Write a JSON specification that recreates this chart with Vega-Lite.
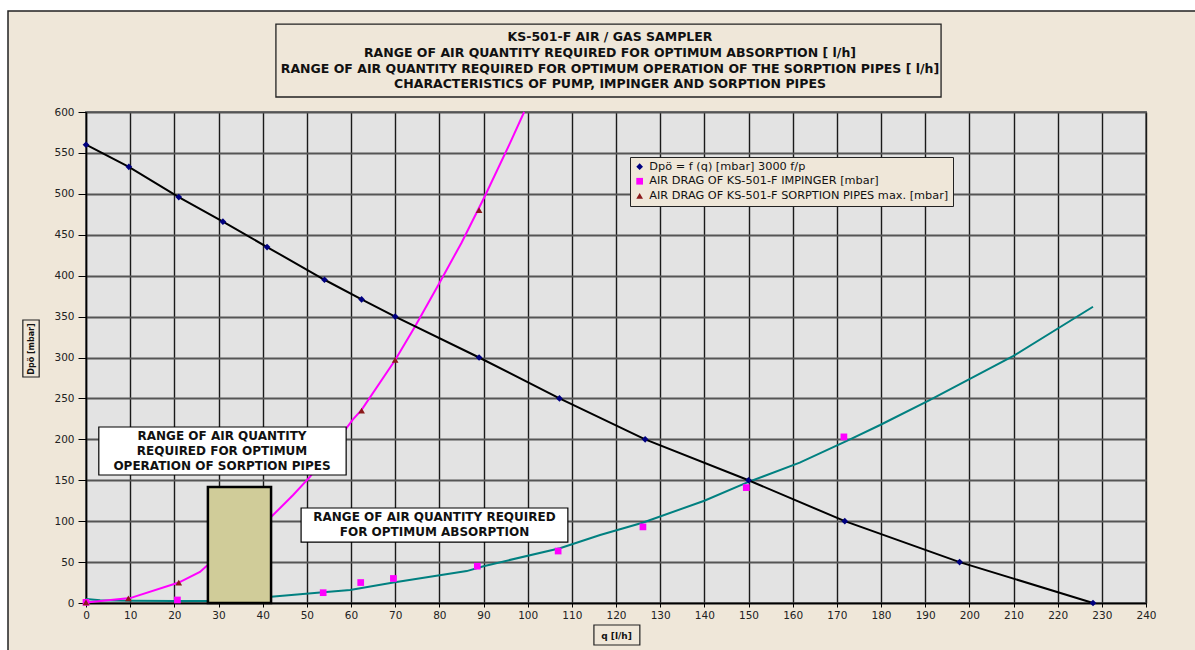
{
  "$schema": "https://vega.github.io/schema/vega-lite/v6.json",
  "width": 1060,
  "height": 491,
  "autosize": "none",
  "padding": {"left": 86, "top": 112, "right": 49, "bottom": 47},
  "background": "#EFE7D9",
  "config": {
    "view": {"fill": "#E3E3E3", "stroke": "#777777", "strokeWidth": 2},
    "font": "DejaVu Sans",
    "axis": {"labelFont": "DejaVu Sans", "titleFont": "DejaVu Sans"}
  },
  "title": {
    "text": [
      "KS-501-F AIR / GAS SAMPLER",
      "RANGE OF AIR QUANTITY REQUIRED FOR OPTIMUM ABSORPTION [ l/h]",
      "RANGE OF AIR QUANTITY REQUIRED FOR OPTIMUM OPERATION OF THE SORPTION PIPES [ l/h]",
      "CHARACTERISTICS OF PUMP, IMPINGER AND SORPTION PIPES"
    ],
    "anchor": "middle",
    "frame": "group",
    "font": "DejaVu Sans",
    "fontSize": 12.5,
    "fontWeight": "bold",
    "color": "#111111",
    "lineHeight": 15.7,
    "offset": -101.8,
    "dx": -6
  },
  "datasets": {
    "one": [{}],
    "pump": [
      {"q": 0, "dp": 560}, {"q": 9.7, "dp": 533}, {"q": 21, "dp": 496},
      {"q": 31, "dp": 466}, {"q": 41, "dp": 435}, {"q": 54, "dp": 395},
      {"q": 62.4, "dp": 371}, {"q": 70, "dp": 350}, {"q": 89, "dp": 300},
      {"q": 107.2, "dp": 250}, {"q": 126.6, "dp": 200}, {"q": 150, "dp": 150},
      {"q": 171.8, "dp": 100}, {"q": 197.8, "dp": 50}, {"q": 228, "dp": 0}
    ],
    "impingerCurve": [
      {"q": 0, "dp": 5}, {"q": 3.2, "dp": 3.3}, {"q": 10, "dp": 2.8},
      {"q": 20, "dp": 2.5}, {"q": 27.5, "dp": 2.4}, {"q": 41.9, "dp": 7.7},
      {"q": 53.7, "dp": 13}, {"q": 59.8, "dp": 16}, {"q": 69.6, "dp": 25},
      {"q": 86.2, "dp": 39}, {"q": 90, "dp": 45}, {"q": 107.3, "dp": 67},
      {"q": 116.4, "dp": 83}, {"q": 126, "dp": 98}, {"q": 140, "dp": 125},
      {"q": 150, "dp": 148}, {"q": 161.6, "dp": 171.5}, {"q": 173, "dp": 200},
      {"q": 179.8, "dp": 217.5}, {"q": 191, "dp": 248}, {"q": 210, "dp": 302},
      {"q": 228, "dp": 362}
    ],
    "pipesCurve": [
      {"q": 0, "dp": 0.5}, {"q": 10, "dp": 6}, {"q": 21, "dp": 25},
      {"q": 25.8, "dp": 38}, {"q": 27.5, "dp": 46}, {"q": 41.9, "dp": 105},
      {"q": 46.9, "dp": 132}, {"q": 50.7, "dp": 154}, {"q": 60.4, "dp": 224},
      {"q": 62.4, "dp": 236}, {"q": 70, "dp": 297}, {"q": 74.5, "dp": 338},
      {"q": 79.8, "dp": 389}, {"q": 85, "dp": 440}, {"q": 90.3, "dp": 497},
      {"q": 96, "dp": 562}, {"q": 99.2, "dp": 600}
    ],
    "points": [
      {"series": "Dpö = f (q)  [mbar] 3000 f/p", "q": 0, "dp": 560},
      {"series": "Dpö = f (q)  [mbar] 3000 f/p", "q": 9.7, "dp": 533},
      {"series": "Dpö = f (q)  [mbar] 3000 f/p", "q": 21, "dp": 496},
      {"series": "Dpö = f (q)  [mbar] 3000 f/p", "q": 31, "dp": 466},
      {"series": "Dpö = f (q)  [mbar] 3000 f/p", "q": 41, "dp": 435},
      {"series": "Dpö = f (q)  [mbar] 3000 f/p", "q": 54, "dp": 395},
      {"series": "Dpö = f (q)  [mbar] 3000 f/p", "q": 62.4, "dp": 371},
      {"series": "Dpö = f (q)  [mbar] 3000 f/p", "q": 70, "dp": 350},
      {"series": "Dpö = f (q)  [mbar] 3000 f/p", "q": 89, "dp": 300},
      {"series": "Dpö = f (q)  [mbar] 3000 f/p", "q": 107.2, "dp": 250},
      {"series": "Dpö = f (q)  [mbar] 3000 f/p", "q": 126.6, "dp": 200},
      {"series": "Dpö = f (q)  [mbar] 3000 f/p", "q": 150, "dp": 150},
      {"series": "Dpö = f (q)  [mbar] 3000 f/p", "q": 171.8, "dp": 100},
      {"series": "Dpö = f (q)  [mbar] 3000 f/p", "q": 197.8, "dp": 50},
      {"series": "Dpö = f (q)  [mbar] 3000 f/p", "q": 228, "dp": 0},
      {"series": "AIR DRAG OF KS-501-F IMPINGER [mbar]", "q": 0, "dp": 0.8},
      {"series": "AIR DRAG OF KS-501-F IMPINGER [mbar]", "q": 20.7, "dp": 3.7},
      {"series": "AIR DRAG OF KS-501-F IMPINGER [mbar]", "q": 53.7, "dp": 12.6},
      {"series": "AIR DRAG OF KS-501-F IMPINGER [mbar]", "q": 62.2, "dp": 25},
      {"series": "AIR DRAG OF KS-501-F IMPINGER [mbar]", "q": 69.6, "dp": 30},
      {"series": "AIR DRAG OF KS-501-F IMPINGER [mbar]", "q": 88.6, "dp": 45},
      {"series": "AIR DRAG OF KS-501-F IMPINGER [mbar]", "q": 106.9, "dp": 63.5},
      {"series": "AIR DRAG OF KS-501-F IMPINGER [mbar]", "q": 126.1, "dp": 93},
      {"series": "AIR DRAG OF KS-501-F IMPINGER [mbar]", "q": 149.5, "dp": 141},
      {"series": "AIR DRAG OF KS-501-F IMPINGER [mbar]", "q": 171.6, "dp": 203},
      {"series": "AIR DRAG OF KS-501-F SORPTION PIPES max. [mbar]", "q": 0, "dp": 0.8},
      {"series": "AIR DRAG OF KS-501-F SORPTION PIPES max. [mbar]", "q": 9.6, "dp": 5.7},
      {"series": "AIR DRAG OF KS-501-F SORPTION PIPES max. [mbar]", "q": 21, "dp": 25},
      {"series": "AIR DRAG OF KS-501-F SORPTION PIPES max. [mbar]", "q": 62.4, "dp": 235},
      {"series": "AIR DRAG OF KS-501-F SORPTION PIPES max. [mbar]", "q": 70, "dp": 297},
      {"series": "AIR DRAG OF KS-501-F SORPTION PIPES max. [mbar]", "q": 89, "dp": 480}
    ]
  },
  "layer": [
    {
      "data": {"name": "impingerCurve"},
      "mark": {"type": "line", "color": "#008080", "strokeWidth": 2},
      "encoding": {
        "x": {
          "field": "q", "type": "quantitative",
          "scale": {"domain": [0, 240], "nice": false, "zero": false},
          "axis": {
            "values": [0,10,20,30,40,50,60,70,80,90,100,110,120,130,140,150,160,170,180,190,200,210,220,230,240],
            "title": "q  [l/h]",
            "grid": true, "gridColor": "#1A1A1A", "gridWidth": 1.4,
            "domainColor": "#000000", "domainWidth": 1.5,
            "tickColor": "#000000", "tickSize": 4, "tickWidth": 1,
            "labelFontSize": 10.5, "labelColor": "#222222", "labelPadding": 3,
            "labelFlush": false, "labelOverlap": false,
            "titleFontSize": 9, "titleFontWeight": "bold", "titleColor": "#111111",
            "titleY": 32, "titleBaseline": "middle"
          }
        },
        "y": {
          "field": "dp", "type": "quantitative",
          "scale": {"domain": [0, 600], "nice": false, "zero": false},
          "axis": {
            "values": [0,50,100,150,200,250,300,350,400,450,500,550,600],
            "title": "Dpö [mbar]",
            "grid": true, "gridColor": "#555555", "gridWidth": 2,
            "domainColor": "#000000", "domainWidth": 1.5,
            "tickColor": "#000000", "tickSize": 8, "tickWidth": 1,
            "labelFontSize": 10.5, "labelColor": "#222222", "labelPadding": 4,
            "labelFlush": false, "labelOverlap": false,
            "titleFontSize": 8, "titleFontWeight": "bold", "titleColor": "#111111",
            "titleAngle": 270, "titleX": -55, "titleY": 236.5,
            "titleAlign": "center", "titleBaseline": "middle"
          }
        }
      }
    },
    {
      "data": {"name": "pipesCurve"},
      "mark": {"type": "line", "color": "#FF00FF", "strokeWidth": 2},
      "encoding": {
        "x": {"field": "q", "type": "quantitative", "title": "q  [l/h]"},
        "y": {"field": "dp", "type": "quantitative", "title": "Dpö [mbar]"}
      }
    },
    {
      "data": {"name": "pump"},
      "mark": {"type": "line", "color": "#000000", "strokeWidth": 2},
      "encoding": {
        "x": {"field": "q", "type": "quantitative", "title": "q  [l/h]"},
        "y": {"field": "dp", "type": "quantitative", "title": "Dpö [mbar]"}
      }
    },
    {
      "data": {"name": "points"},
      "mark": {"type": "point", "filled": true, "opacity": 1, "size": 45},
      "encoding": {
        "x": {"field": "q", "type": "quantitative", "title": "q  [l/h]"},
        "y": {"field": "dp", "type": "quantitative", "title": "Dpö [mbar]"},
        "color": {
          "field": "series", "type": "nominal",
          "scale": {
            "domain": ["Dpö = f (q)  [mbar] 3000 f/p", "AIR DRAG OF KS-501-F IMPINGER [mbar]", "AIR DRAG OF KS-501-F SORPTION PIPES max. [mbar]"],
            "range": ["#000080", "#FF00FF", "#8B1A1A"]
          },
          "legend": {
            "title": null, "orient": "none", "legendX": 544, "legendY": 45,
            "fillColor": "#EFE7D9", "strokeColor": "#222222", "padding": 4,
            "labelFont": "DejaVu Sans", "labelFontSize": 11.3, "labelColor": "#111111",
            "labelLimit": 400, "symbolSize": 45, "rowPadding": 2.6
          }
        },
        "shape": {
          "field": "series", "type": "nominal",
          "scale": {
            "domain": ["Dpö = f (q)  [mbar] 3000 f/p", "AIR DRAG OF KS-501-F IMPINGER [mbar]", "AIR DRAG OF KS-501-F SORPTION PIPES max. [mbar]"],
            "range": ["diamond", "square", "triangle-up"]
          },
          "legend": null
        }
      }
    },
    {
      "data": {"name": "one"},
      "mark": {"type": "rect", "fill": "#D0CC99", "stroke": "#000000", "strokeWidth": 2.5},
      "encoding": {
        "x": {"datum": 27.6, "type": "quantitative"},
        "x2": {"datum": 41.9},
        "y": {"datum": 0, "type": "quantitative"},
        "y2": {"datum": 141.8}
      }
    },
    {
      "data": {"name": "one"},
      "mark": {"type": "rect", "fill": "#FFFFFF", "stroke": "#000000", "strokeWidth": 1.2},
      "encoding": {
        "x": {"datum": 2.9, "type": "quantitative"},
        "x2": {"datum": 58.9},
        "y": {"datum": 156.4, "type": "quantitative"},
        "y2": {"datum": 215.1}
      }
    },
    {
      "data": {"name": "one"},
      "mark": {"type": "rect", "fill": "#FFFFFF", "stroke": "#000000", "strokeWidth": 1.2},
      "encoding": {
        "x": {"datum": 48.7, "type": "quantitative"},
        "x2": {"datum": 109.1},
        "y": {"datum": 74.5, "type": "quantitative"},
        "y2": {"datum": 116.1}
      }
    },
    {
      "data": {"name": "one"},
      "mark": {
        "type": "text", "font": "DejaVu Sans", "fontSize": 12, "fontWeight": "bold", "color": "#111111",
        "align": "center", "baseline": "middle", "lineHeight": 15,
        "text": ["RANGE OF AIR QUANTITY", "REQUIRED FOR OPTIMUM", "OPERATION OF SORPTION PIPES"]
      },
      "encoding": {
        "x": {"datum": 30.8, "type": "quantitative"},
        "y": {"datum": 204.1, "type": "quantitative"}
      }
    },
    {
      "data": {"name": "one"},
      "mark": {
        "type": "text", "font": "DejaVu Sans", "fontSize": 12, "fontWeight": "bold", "color": "#111111",
        "align": "center", "baseline": "middle", "lineHeight": 15,
        "text": ["RANGE OF AIR QUANTITY REQUIRED", "FOR OPTIMUM ABSORPTION"]
      },
      "encoding": {
        "x": {"datum": 78.9, "type": "quantitative"},
        "y": {"datum": 105.1, "type": "quantitative"}
      }
    },
    {
      "data": {"name": "one"},
      "mark": {"type": "rect", "fillOpacity": 0, "stroke": "#222222", "strokeWidth": 1.3},
      "encoding": {
        "x": {"datum": 43.0, "type": "quantitative"},
        "x2": {"datum": 193.6},
        "y": {"datum": 618.3, "type": "quantitative"},
        "y2": {"datum": 707.5}
      }
    },
    {
      "data": {"name": "one"},
      "mark": {"type": "rect", "fillOpacity": 0, "stroke": "#222222", "strokeWidth": 1.2},
      "encoding": {
        "x": {"datum": 115.0, "type": "quantitative"},
        "x2": {"datum": 125.4},
        "y": {"datum": -26.9, "type": "quantitative"},
        "y2": {"datum": -51.3}
      }
    },
    {
      "data": {"name": "one"},
      "mark": {"type": "rect", "fillOpacity": 0, "stroke": "#222222", "strokeWidth": 1.2},
      "encoding": {
        "x": {"datum": -14.3, "type": "quantitative"},
        "x2": {"datum": -10.6},
        "y": {"datum": 276.2, "type": "quantitative"},
        "y2": {"datum": 345.8}
      }
    },
    {
      "data": {"name": "one"},
      "mark": {"type": "rect", "fillOpacity": 0, "stroke": "#FFFFFF", "strokeWidth": 22},
      "encoding": {
        "x": {"datum": -20.15, "type": "quantitative"},
        "x2": {"datum": 256.75},
        "y": {"datum": 736.9, "type": "quantitative"},
        "y2": {"datum": -94.1}
      }
    },
    {
      "data": {"name": "one"},
      "mark": {"type": "rect", "fillOpacity": 0, "stroke": "#222222", "strokeWidth": 1.5},
      "encoding": {
        "x": {"datum": -17.66, "type": "quantitative"},
        "x2": {"datum": 254.5},
        "y": {"datum": 723.4, "type": "quantitative"},
        "y2": {"datum": -81.9}
      }
    }
  ]
}
